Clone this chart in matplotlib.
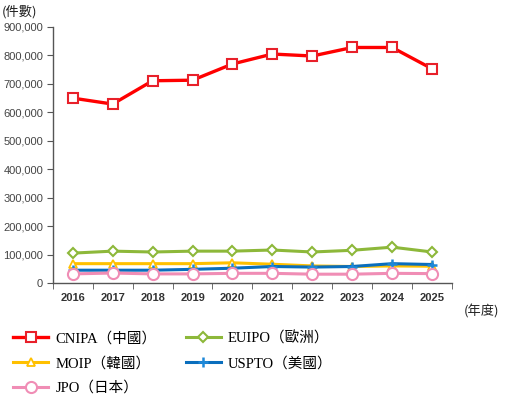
import matplotlib
matplotlib.use("Agg")
import matplotlib.pyplot as plt

years = ["2016", "2017", "2018", "2019", "2020", "2021", "2022", "2023", "2024", "2025"]
cnipa = [650000, 629000, 711000, 713000, 770000, 805000, 798000, 828000, 828000, 753000]
euipo = [105000, 112000, 109000, 112000, 112000, 116000, 109000, 115000, 126000, 109000]
moip = [68000, 68000, 68000, 68000, 71000, 66000, 60000, 58000, 60000, 59000]
uspto = [45000, 45000, 45000, 48000, 52000, 58000, 56000, 58000, 68000, 65000]
jpo = [32000, 35000, 32000, 32000, 34000, 34000, 31000, 31000, 34000, 33000]
labels = ["CNIPA（中國）", "EUIPO（歐洲）", "MOIP（韓國）", "USPTO（美國）", "JPO（日本）"]

fig = plt.figure(figsize=(5.12, 4.0), dpi=100)
ax = fig.add_axes([0.103, 0.2925, 0.78, 0.64])
x = list(range(len(years)))

l_cn, = ax.plot(x, cnipa, color="#FF0000", lw=2.4, marker="s", ms=7,
                mfc="white", mec="#E8202A", mew=1.5, zorder=5)
l_eu, = ax.plot(x, euipo, color="#8DB83A", lw=2.2, marker="D", ms=5,
                mfc="white", mec="#8DB83A", mew=1.5, zorder=4)
l_mo, = ax.plot(x, moip, color="#FFC000", lw=2.2, marker="^", ms=5.5,
                mfc="white", mec="#FFC000", mew=1.3, zorder=3)
l_us, = ax.plot(x, uspto, color="#0A6EBD", lw=2.2, marker="+", ms=7,
                mec="#1E88D8", mew=1.8, zorder=3)
l_jp, = ax.plot(x, jpo, color="#F08DB5", lw=2.2, marker="o", ms=8,
                mfc="white", mec="#F08DB5", mew=1.5, zorder=4)

ax.set_xlim(-0.5, len(years) - 0.5)
ax.set_ylim(0, 900000)
ax.set_yticks(range(0, 900001, 100000))
ax.set_yticklabels([f"{v:,}" for v in range(0, 900001, 100000)],
                   family="Liberation Sans")
ax.set_xticks(x)
ax.set_xticklabels(years, family="Liberation Sans", fontweight="bold")
ax.set_xticks([i - 0.5 for i in range(len(years) + 1)], minor=True)
ax.tick_params(axis="x", which="major", length=0, pad=7, labelsize=8, labelcolor="#333333")
ax.tick_params(axis="x", which="minor", length=4, color="#555555", direction="out")
ax.tick_params(axis="y", length=4, color="#555555", labelsize=8, labelcolor="#444444", pad=3)
for s in ["top", "right"]:
    ax.spines[s].set_visible(False)
for s in ["left", "bottom"]:
    ax.spines[s].set_color("#555555")
    ax.spines[s].set_linewidth(1.0)

cjk = ["Noto Sans CJK TC", "DejaVu Sans"]
fig.text(0.004, 0.97, "(件數)", fontsize=9.5, family=cjk, color="#222222", va="center")
fig.text(0.905, 0.22, "(年度)", fontsize=9.5, family=cjk, color="#222222", va="center")

leg = fig.legend([l_cn, l_mo, l_jp, l_eu, l_us],
                 [labels[0], labels[2], labels[4], labels[1], labels[3]],
                 ncol=2, loc="upper left", bbox_to_anchor=(0.0, 0.205),
                 frameon=False, handlelength=2.4, columnspacing=2.0,
                 labelspacing=0.75, handletextpad=0.5,
                 prop={"family": ["Liberation Serif", "Noto Sans CJK TC"], "size": 10.5})

fig.savefig("out.png", dpi=100)
